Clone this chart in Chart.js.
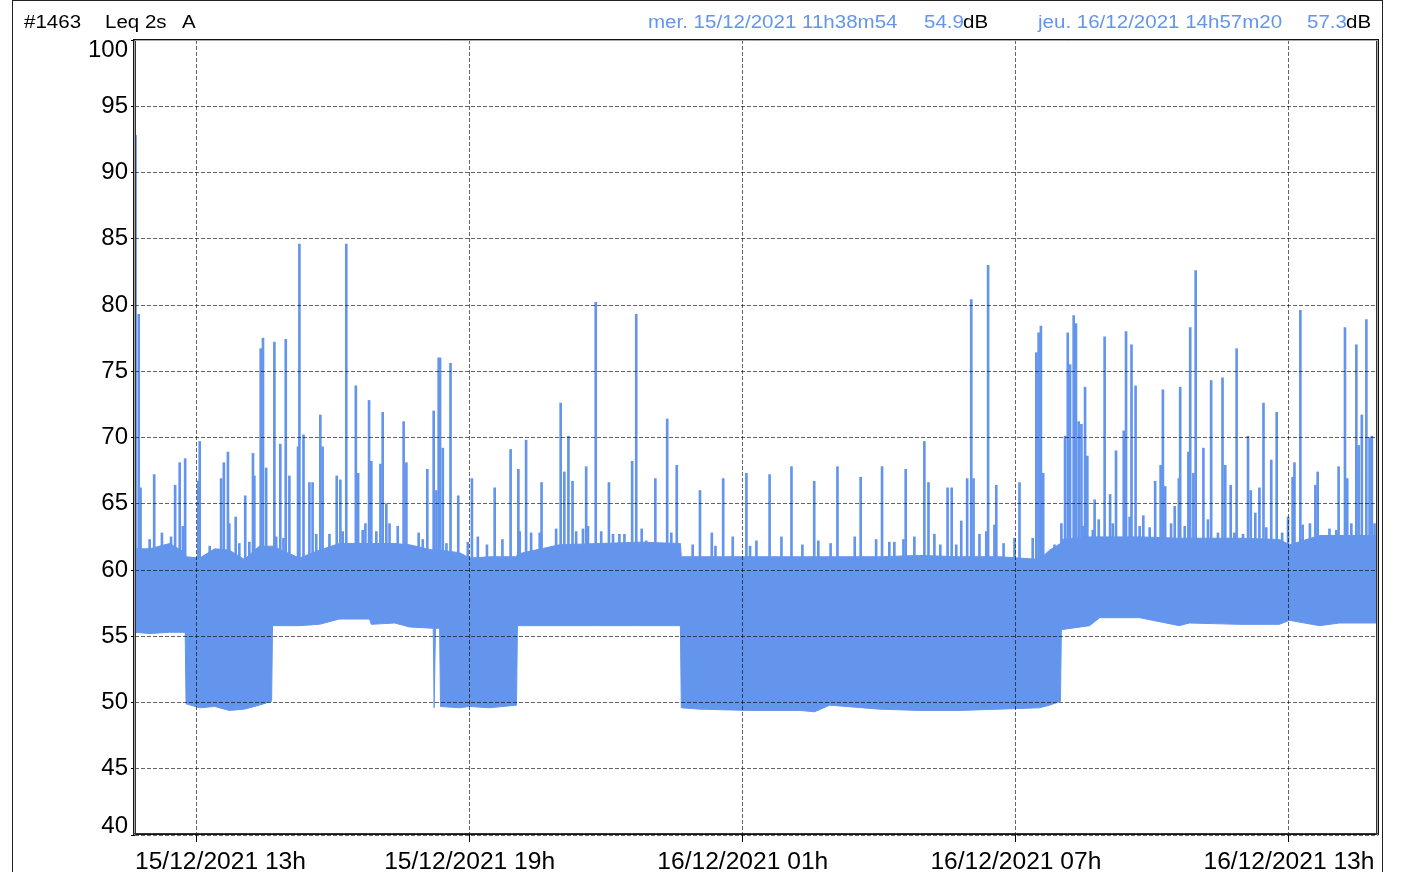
<!DOCTYPE html>
<html>
<head>
<meta charset="utf-8">
<title>#1463 Leq 2s A</title>
<script src="https://cdn.jsdelivr.net/npm/chart.js@4.4.1/dist/chart.umd.min.js"></script>
<style>
  html, body { margin: 0; padding: 0; background: #fff; }
  #wrap { position: relative; width: 1408px; height: 872px; overflow: hidden; }
  #frame { position: absolute; left: 12px; top: 0; width: 1369px; height: 900px;
           border-left: 1px solid #222; border-right: 1px solid #222; border-top: 1px solid #222; }
  .h { position: absolute; top: 13px; font: 18px "Liberation Sans", Arial, sans-serif; line-height: 18px;
       white-space: nowrap; transform: scaleX(1.14); transform-origin: 0 0; color: #000; }
  .blue { color: #6495ED; }
  canvas { position: absolute; left: 0; top: 0; }
</style>
</head>
<body>
<div id="wrap">
  <div id="frame"></div>
  <canvas id="myChart" width="1408" height="872"></canvas>
  <span class="h" style="left:24px">#1463</span>
  <span class="h" style="left:105px">Leq 2s</span>
  <span class="h" style="left:182px">A</span>
  <span class="h blue" style="left:648px" id="startLabel"></span>
  <span class="h blue" style="left:924px" id="startLevel"></span>
  <span class="h" style="left:963px">dB</span>
  <span class="h blue" style="left:1038px" id="endLabel"></span>
  <span class="h blue" style="left:1307px" id="endLevel"></span>
  <span class="h" style="left:1346px">dB</span>
</div>
<script>
(function () {
  'use strict'

  // header values
  var startText = 'mer. 15/12/2021 11h38m54'
  var startLeq = '54.9'
  var endText = 'jeu. 16/12/2021 14h57m20'
  var endLeq = '57.3'

  // time axis in hours counted from 15/12/2021 00h
  var startHour = 11 + 38 / 60 + 54 / 3600
  var endHour = 24 + 14 + 57 / 60 + 20 / 3600
  var tickHours = [13, 19, 25, 31, 37]
  var tickLabels = ['15/12/2021 13h', '15/12/2021 19h', '16/12/2021 01h', '16/12/2021 07h', '16/12/2021 13h']

  var yMin = 40
  var yMax = 100
  var yStep = 5

  // envelope of the 2s Leq trace (dB)
  var bandTimes = [11.65, 11.97, 12.41, 12.75, 12.77, 13.07, 13.40, 13.72, 14.05, 14.38, 14.65, 14.67,
    15.26, 15.70, 16.14, 16.80, 16.84, 17.35, 17.68, 18.20, 18.22, 18.25, 18.34, 18.36, 18.78, 19.00,
    19.44, 20.03, 20.05, 20.97, 21.85, 22.73, 23.63, 23.65, 24.05, 25.15, 26.25, 26.58, 26.91, 28.00,
    28.88, 29.76, 30.64, 31.52, 31.74, 31.98, 32.00, 32.62, 32.84, 33.72, 34.59, 34.81, 35.91, 36.79,
    37.01, 37.67, 38.11, 38.96]
  var bandHigh = [61.6, 61.6, 62.0, 61.3, 61.0, 60.9, 61.6, 61.5, 60.8, 61.8, 61.8, 61.8,
    60.9, 61.5, 62.0, 62.0, 62.0, 62.0, 61.9, 61.5, 61.5, 61.5, 61.5, 61.5, 61.3, 60.9,
    61.0, 61.0, 61.2, 61.9, 62.0, 62.1, 62.0, 61.0, 61.0, 61.0, 61.0, 61.0, 61.0, 61.0,
    61.1, 61.0, 61.0, 60.8, 61.5, 62.0, 62.3, 62.5, 62.5, 62.5, 62.4, 62.4, 62.4, 62.3,
    61.9, 62.6, 62.6, 62.6]
  var bandLow = [55.3, 55.2, 55.3, 55.3, 49.9, 49.6, 49.7, 49.4, 49.5, 49.8, 50.1, 55.8,
    55.8, 55.9, 56.3, 56.3, 55.9, 56.0, 55.7, 55.6, 49.6, 55.6, 55.6, 49.7, 49.6, 49.7,
    49.6, 49.8, 55.8, 55.8, 55.8, 55.8, 55.8, 49.6, 49.5, 49.4, 49.4, 49.3, 49.8, 49.5,
    49.4, 49.4, 49.5, 49.6, 49.8, 50.1, 55.5, 55.8, 56.4, 56.4, 55.8, 56.0, 55.9, 55.9,
    56.2, 55.8, 56.0, 56.0]

  // short events above the background level
  var spikeTimes = [11.66, 11.73, 11.77, 12.07, 12.53, 12.63, 12.75, 13.04, 13.07, 13.54, 13.60, 13.69,
    13.86, 14.07, 14.24, 14.27, 14.41, 14.46, 14.53, 14.71, 14.84, 14.96, 15.04, 15.23, 15.26, 15.35,
    15.48, 15.55, 15.72, 15.77, 16.08, 16.16, 16.29, 16.50, 16.55, 16.71, 16.79, 16.84, 17.04, 17.09,
    17.17, 17.55, 17.61, 18.07, 18.21, 18.27, 18.32, 18.35, 18.41, 18.58, 18.75, 19.05, 19.55, 19.90,
    20.07, 20.24, 20.58, 21.00, 21.08, 21.17, 21.26, 21.56, 21.77, 22.06, 22.57, 22.66, 23.08, 23.34,
    23.55, 24.06, 24.32, 24.57, 24.78, 25.08, 25.59, 26.07, 26.57, 27.08, 27.59, 28.06, 28.58, 28.99,
    29.08, 29.50, 29.59, 29.80, 29.93, 30.02, 30.07, 30.39, 30.57, 31.08, 31.45, 31.50, 31.55, 31.60,
    32.08, 32.14, 32.19, 32.27, 32.32, 32.38, 32.44, 32.52, 32.57, 32.73, 32.82, 32.95, 33.07, 33.20,
    33.37, 33.42, 33.54, 33.63, 33.80, 34.06, 34.18, 34.23, 34.28, 34.49, 34.58, 34.61, 34.79, 34.83,
    34.90, 34.95, 35.12, 35.29, 35.54, 35.60, 35.72, 35.85, 36.10, 36.16, 36.26, 36.35, 36.44, 36.61,
    36.73, 36.98, 37.08, 37.12, 37.25, 37.46, 37.58, 37.63, 38.09, 38.23, 38.28, 38.48, 38.53, 38.60,
    38.70, 38.77, 38.82]
  var spikePeaks = [92.8, 79.3, 66.2, 67.2, 66.4, 68.1, 68.4, 66.7, 69.7, 66.9, 68.1, 68.9,
    64.0, 65.6, 68.8, 67.1, 76.7, 77.5, 67.7, 77.2, 69.5, 77.4, 67.1, 69.3, 84.6, 70.2,
    66.6, 66.6, 71.7, 69.3, 67.1, 66.8, 84.6, 73.9, 67.3, 63.5, 72.8, 68.2, 68.0, 71.9,
    65.0, 71.2, 68.1, 67.6, 72.0, 66.0, 76.0, 76.0, 69.2, 75.6, 65.6, 66.9, 66.2, 69.1,
    67.6, 69.8, 66.6, 72.6, 67.4, 70.1, 66.7, 67.8, 80.2, 66.6, 68.2, 79.3, 66.9, 71.4,
    67.9, 66.0, 62.8, 66.9, 62.5, 67.3, 67.2, 67.8, 66.7, 67.8, 67.0, 67.8, 67.6, 69.7,
    66.6, 66.2, 66.2, 63.7, 66.9, 80.4, 66.9, 83.0, 66.4, 66.6, 76.4, 77.9, 78.4, 67.3,
    70.1, 77.9, 75.5, 79.2, 78.6, 71.2, 71.0, 73.8, 68.6, 65.3, 63.8, 77.6, 65.7, 69.0,
    70.5, 78.0, 77.0, 73.9, 64.1, 66.7, 67.9, 73.6, 66.3, 64.8, 66.9, 73.8, 68.9, 78.3,
    67.3, 82.6, 69.2, 74.3, 74.5, 67.9, 66.4, 76.7, 70.1, 66.0, 64.3, 66.2, 72.6, 68.3,
    71.9, 64.0, 67.0, 68.1, 79.6, 63.5, 66.4, 67.4, 67.8, 78.3, 66.9, 77.0, 69.4, 71.7,
    78.9, 70.0, 70.1]

  // small bumps on top of the background band
  var minorTimes = [11.97, 12.24, 12.44, 12.70, 13.29, 13.72, 13.94, 14.16, 14.75, 14.91, 15.63, 15.92,
    16.21, 16.65, 16.95, 17.24, 17.42, 17.88, 17.97, 18.49, 18.96, 19.18, 19.38, 19.72, 20.10, 20.35,
    20.54, 20.90, 21.34, 21.49, 21.60, 21.89, 22.15, 22.29, 22.40, 22.78, 22.88, 23.43, 23.90, 24.40,
    25.16, 25.30, 25.85, 26.31, 26.66, 26.93, 27.46, 27.93, 28.22, 28.33, 28.53, 28.77, 29.21, 29.34,
    29.69, 30.20, 30.35, 30.53, 30.73, 30.97, 31.37, 31.85, 32.00, 32.47, 32.69, 33.13, 33.50, 33.72,
    33.94, 34.41, 34.71, 35.22, 35.44, 35.80, 35.99, 36.50, 36.85, 37.30, 37.74, 37.89, 38.04, 38.37,
    38.88]
  var minorPeaks = [62.3, 62.8, 62.5, 63.3, 61.8, 63.5, 62.0, 62.1, 62.5, 62.4, 62.7, 62.7,
    62.9, 63.0, 62.9, 63.5, 63.3, 62.8, 62.3, 62.0, 62.1, 62.5, 61.9, 62.3, 62.9, 62.8,
    62.8, 63.1, 62.9, 63.1, 63.3, 62.9, 62.7, 62.7, 62.7, 63.1, 62.2, 62.8, 61.9, 61.8,
    61.8, 62.2, 62.5, 61.9, 62.2, 62.0, 62.5, 62.3, 62.1, 62.1, 62.3, 62.5, 62.7, 61.9,
    61.9, 62.7, 62.9, 63.4, 62.0, 62.4, 62.4, 61.9, 63.5, 63.3, 63.0, 63.5, 64.0, 63.3,
    63.2, 63.5, 63.3, 63.8, 62.8, 62.8, 62.7, 63.2, 62.8, 63.4, 62.5, 63.1, 63.0, 63.5,
    63.5]
  var spikeBase = 58

  document.getElementById('startLabel').textContent = startText
  document.getElementById('startLevel').textContent = startLeq
  document.getElementById('endLabel').textContent = endText
  document.getElementById('endLevel').textContent = endLeq

  var blue = '#6495ED'
  var labelFont = '24px "Liberation Sans", Arial, sans-serif'
  var xLabelFont = '24.6px "Liberation Sans", Arial, sans-serif'

  var lowPts = bandTimes.map(function (t, i) { return { x: t, y: bandLow[i] } })
  var highPts = bandTimes.map(function (t, i) { return { x: t, y: bandHigh[i] } })
  var spikePts = spikeTimes.map(function (t, i) { return { x: t, y: [spikeBase, spikePeaks[i]] } })
  var minorPts = minorTimes.map(function (t, i) { return { x: t, y: [spikeBase, minorPeaks[i]] } })

  // frame + axis labels (kept inside the plot limits like the original)
  var axisText = {
    id: 'axisText',
    afterDraw: function (chart) {
      var ctx = chart.ctx
      var a = chart.chartArea
      var x = chart.scales.x
      var y = chart.scales.y
      ctx.save()
      ctx.lineWidth = 1
      ctx.strokeStyle = '#111'
      ctx.strokeRect(a.left - 1.5, a.top - 0.5, a.right - a.left + 2, a.bottom - a.top)
      ctx.strokeStyle = '#aaa'
      ctx.beginPath()
      ctx.moveTo(a.left - 0.5, a.top + 0.5); ctx.lineTo(a.left - 0.5, a.bottom)
      ctx.moveTo(a.right - 0.5, a.top + 0.5); ctx.lineTo(a.right - 0.5, a.bottom)
      ctx.moveTo(a.left, a.top + 0.5); ctx.lineTo(a.right, a.top + 0.5)
      ctx.stroke()
      ctx.strokeStyle = '#333'
      ctx.beginPath()
      ctx.moveTo(a.left + 0.5, a.top + 1); ctx.lineTo(a.left + 0.5, a.bottom)
      ctx.moveTo(a.right - 1.5, a.top + 1); ctx.lineTo(a.right - 1.5, a.bottom)
      ctx.moveTo(a.left - 2, a.bottom - 1.5); ctx.lineTo(a.right + 1, a.bottom - 1.5)
      ctx.stroke()

      ctx.fillStyle = '#000'
      ctx.font = labelFont
      ctx.textAlign = 'right'
      ctx.textBaseline = 'middle'
      y.ticks.forEach(function (tk) {
        var py = y.getPixelForValue(tk.value)
        py = Math.min(Math.max(py, a.top + 10), a.bottom - 9)
        ctx.fillText(String(tk.value), a.left - 7, py)
      })

      ctx.font = xLabelFont
      ctx.textAlign = 'left'
      ctx.textBaseline = 'alphabetic'
      tickHours.forEach(function (h, i) {
        var px = x.getPixelForValue(h)
        var w = ctx.measureText(tickLabels[i]).width
        var left = Math.min(Math.max(px - w / 2, a.left), a.right - w)
        ctx.fillText(tickLabels[i], left, 869)
      })
      ctx.restore()
    }
  }

  var ctx = document.getElementById('myChart')
  var myChart = new Chart(ctx, {
    type: 'bar',
    data: {
      datasets: [{
        type: 'line',
        data: lowPts,
        borderColor: blue,
        borderWidth: 1,
        pointRadius: 0,
        fill: false,
        tension: 0
      }, {
        type: 'line',
        data: highPts,
        borderColor: blue,
        backgroundColor: blue,
        borderWidth: 1,
        pointRadius: 0,
        fill: '-1',
        tension: 0
      }, {
        type: 'bar',
        data: minorPts,
        backgroundColor: blue,
        borderWidth: 0,
        barThickness: 2,
        grouped: false
      }, {
        type: 'bar',
        data: spikePts,
        backgroundColor: blue,
        borderWidth: 0,
        barThickness: 2,
        grouped: false
      }]
    },
    options: {
      responsive: false,
      devicePixelRatio: 1,
      animation: false,
      events: [],
      layout: { padding: { top: 40, right: 30, left: 0, bottom: 0 } },
      plugins: { legend: { display: false }, tooltip: { enabled: false } },
      scales: {
        x: {
          type: 'linear',
          min: startHour,
          max: endHour,
          offset: false,
          afterBuildTicks: function (scale) {
            scale.ticks = tickHours.map(function (v) { return { value: v } })
          },
          afterFit: function (scale) { scale.height = 37 },
          ticks: { display: false },
          border: { display: false, dash: [4, 2] },
          grid: { color: 'rgba(0,0,0,0.6)', lineWidth: 1, z: 1, offset: false,
                  drawTicks: true, tickLength: 7, tickColor: '#000', tickBorderDash: [] }
        },
        y: {
          min: yMin,
          max: yMax,
          ticks: { display: false, stepSize: yStep },
          afterFit: function (scale) { scale.width = 135 },
          border: { display: false, dash: [4, 2] },
          grid: { color: 'rgba(0,0,0,0.6)', lineWidth: 1, z: 1,
                  drawTicks: true, tickLength: 4, tickColor: '#000', tickBorderDash: [] }
        }
      }
    },
    plugins: [axisText]
  })
})()
</script>
</body>
</html>
